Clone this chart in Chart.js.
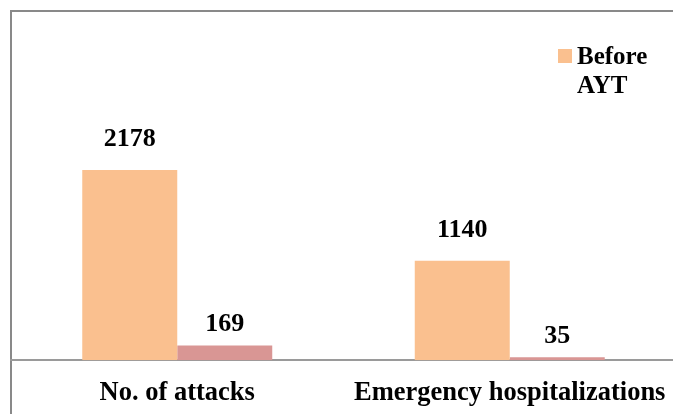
<!DOCTYPE html>
<html>
<head>
<meta charset="utf-8">
<script src="https://cdn.jsdelivr.net/npm/chart.js@4"></script>
<style>
  html, body { margin: 0; padding: 0; background: #fff; overflow: hidden; }
  #wrap { position: absolute; left: 0; top: 0; width: 700px; height: 435px; }
</style>
</head>
<body>
<div id="wrap"><canvas id="myChart"></canvas></div>
<script>
const categories = ["No. of attacks", "Emergency hospitalizations"];
const beforeAYT = [2178, 1140];
const afterAYT = [169, 35];
const seriesNames = ["Before AYT", "After AYT"];

const serif = "'Liberation Serif', 'Times New Roman', serif";

// outer frame of the chart box (right and bottom edges fall outside the picture)
const framePlugin = {
    id: "frame",
    beforeDraw(chart) {
        const c = chart.ctx;
        c.save();
        c.strokeStyle = "#898989";
        c.lineWidth = 2;
        c.beginPath();
        c.moveTo(11, chart.height);
        c.lineTo(11, 11);
        c.lineTo(chart.width, 11);
        c.stroke();
        c.restore();
    },
};

// value labels above each bar
const valueLabels = {
    id: "valueLabels",
    afterDatasetsDraw(chart) {
        const c = chart.ctx;
        const offsets = [24, 14];
        c.save();
        c.font = "bold 26px " + serif;
        c.fillStyle = "#000";
        c.textAlign = "center";
        c.textBaseline = "alphabetic";
        chart.data.datasets.forEach((ds, i) => {
            chart.getDatasetMeta(i).data.forEach((bar, j) => {
                c.fillText(String(ds.data[j]), bar.x, bar.y - offsets[i]);
            });
        });
        c.restore();
    },
};

// legend as in the picture: only the first entry is visible, wrapped on two lines
const legendPlugin = {
    id: "sideLegend",
    afterDraw(chart) {
        const c = chart.ctx;
        const ds = chart.data.datasets[0];
        c.save();
        c.fillStyle = ds.backgroundColor;
        c.fillRect(558, 49, 14, 14);
        c.font = "bold 25px " + serif;
        c.fillStyle = "#000";
        c.textAlign = "left";
        c.textBaseline = "alphabetic";
        const words = ds.label.split(" ");
        c.fillText(words[0], 577, 64);
        c.fillText(words.slice(1).join(" "), 577, 93);
        c.restore();
    },
};

new Chart(document.getElementById("myChart"), {
    type: "bar",
    data: {
        labels: categories,
        datasets: [
            {
                label: seriesNames[0],
                data: beforeAYT,
                backgroundColor: "#FAC08F",
                borderWidth: 0,
            },
            {
                label: seriesNames[1],
                data: afterAYT,
                backgroundColor: "#D99694",
                borderWidth: 0,
            },
        ],
    },
    options: {
        responsive: true,
        maintainAspectRatio: false,
        animation: false,
        datasets: {
            bar: { categoryPercentage: 0.5714, barPercentage: 1 },
        },
        layout: {
            padding: { left: 11, right: 24, top: 142, bottom: 9 },
        },
        scales: {
            x: {
                grid: { display: false, drawTicks: false },
                border: { display: true, color: "#9a9a9a", width: 2 },
                ticks: {
                    color: "#000",
                    padding: 17,
                    maxRotation: 0,
                    font: { family: serif, size: 26.5, weight: "bold" },
                },
            },
            y: {
                display: false,
                min: 0,
                max: 2500,
            },
        },
        plugins: {
            legend: { display: false },
            tooltip: { enabled: false },
        },
    },
    plugins: [framePlugin, valueLabels, legendPlugin],
});
</script>
</body>
</html>
